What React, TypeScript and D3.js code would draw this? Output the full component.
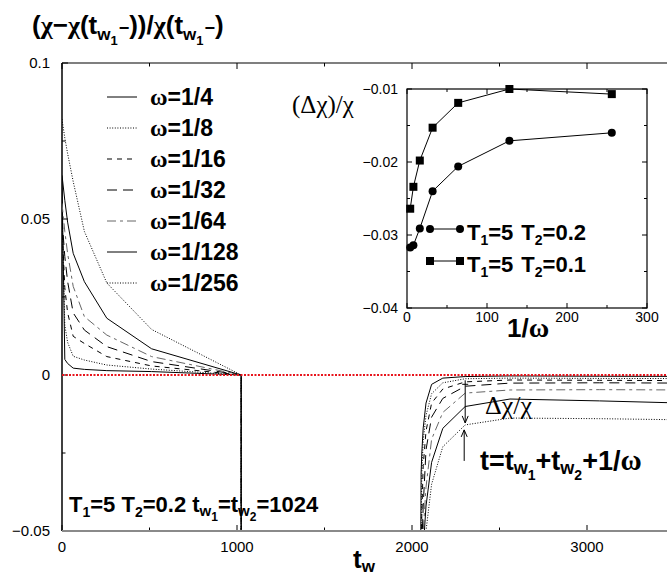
import React from 'react';
import * as d3 from 'd3';

// legend labels for the seven runs (omega values)
const omegaLabels = ['1/4', '1/8', '1/16', '1/32', '1/64', '1/128', '1/256'];

// first stage, 0 .. t_w1 = 1024 (last point is the drop below the frame)
const leftT = [0, 16, 32, 64, 128, 256, 512, 1024, 1024];
const left4 = [0.062, 0.005, 0.0037, 0.0022, 0.0018, 0.0014, 0.0011, 0, -0.075];
const left8 = [0.052, 0.016, 0.0105, 0.006, 0.0048, 0.0032, 0.0019, 0, -0.075];
const left16 = [0.048, 0.028, 0.02, 0.0124, 0.0101, 0.0059, 0.0029, 0, -0.075];
const left32 = [0.05, 0.038, 0.03, 0.0199, 0.0144, 0.0091, 0.0043, 0, -0.075];
const left64 = [0.055, 0.046, 0.039, 0.0284, 0.0187, 0.0128, 0.0059, 0, -0.075];
const left128 = [0.064, 0.056, 0.049, 0.039, 0.0299, 0.0182, 0.0084, 0, -0.075];
const left256 = [0.082, 0.076, 0.071, 0.062, 0.046, 0.0295, 0.0146, 0, -0.075];

// second stage, from t_w1 + t_w2 = 2048 on
const rightT = [2048, 2052, 2056, 2064, 2080, 2112, 2176, 2304, 2560, 3072, 4096];
const right4 = [-0.075, -0.0317, -0.025, -0.017, -0.009, -0.003, -0.001, -0.0005, -0.0003, -0.0004, -0.0005];
const right8 = [-0.075, -0.055, -0.0314, -0.021, -0.013, -0.006, -0.0025, -0.0012, -0.001, -0.0011, -0.0012];
const right16 = [-0.075, -0.06, -0.045, -0.0291, -0.018, -0.009, -0.0045, -0.0022, -0.0016, -0.0017, -0.0019];
const right32 = [-0.075, -0.065, -0.055, -0.042, -0.024, -0.0135, -0.0075, -0.0036, -0.0026, -0.0025, -0.0027];
const right64 = [-0.075, -0.07, -0.062, -0.05, -0.036, -0.0206, -0.012, -0.0058, -0.0048, -0.0047, -0.0049];
const right128 = [-0.075, -0.072, -0.066, -0.056, -0.042, -0.028, -0.0171, -0.0101, -0.0077, -0.0083, -0.0098];
const right256 = [-0.075, -0.073, -0.07, -0.062, -0.05, -0.035, -0.023, -0.016, -0.0138, -0.014, -0.0148];

// inset: delta chi / chi against 1/omega
const invOmega = [4, 8, 16, 32, 64, 128, 256];
const dchiT02 = [-0.0317, -0.0314, -0.0291, -0.024, -0.0206, -0.0171, -0.016];
const dchiT01 = [-0.0264, -0.0234, -0.0198, -0.0153, -0.0119, -0.01, -0.0107];

const xTicks = [0, 1000, 2000, 3000];
const yTicks = [-0.05, 0, 0.05, 0.1];
const yTickLabels = ['\u22120.05', '0', '0.05', '0.1'];
const insetXTicks = [0, 100, 200, 300];
const insetYTicks = [-0.04, -0.03, -0.02, -0.01];
const insetYTickLabels = ['\u22120.04', '\u22120.03', '\u22120.02', '\u22120.01'];

// the arrow marks t = t_w1 + t_w2 + 1/omega for omega = 1/256
const arrowT = 2304;

const leftSeries = [left4, left8, left16, left32, left64, left128, left256];
const rightSeries = [right4, right8, right16, right32, right64, right128, right256];

const lineStyles = [
  { stroke: '#000', dash: undefined },
  { stroke: '#000', dash: '1,1.6' },
  { stroke: '#000', dash: '5,5' },
  { stroke: '#000', dash: '10,6' },
  { stroke: '#666', dash: '9,4,3,4' },
  { stroke: '#000', dash: undefined },
  { stroke: '#000', dash: '1,1.6' },
];

const SANS = 'Liberation Sans, Arial, sans-serif';
const SERIF = 'Liberation Serif, Times New Roman, serif';

export default function App() {
  const W = 667;
  const H = 577;

  const x = d3.scaleLinear().domain([0, 3500]).range([62, 674.5]);
  const y = d3.scaleLinear().domain([-0.05, 0.1]).range([531, 63]);
  const ix = d3.scaleLinear().domain([0, 300]).range([407, 647]);
  const iy = d3.scaleLinear().domain([-0.04, -0.01]).range([308, 89]);

  const line = d3.line<[number, number]>()
    .x(d => x(d[0]))
    .y(d => y(d[1]));
  const insetLine = d3.line<[number, number]>()
    .x(d => ix(d[0]))
    .y(d => iy(d[1]));

  const plotLeft = x(0);
  const plotTop = y(0.1);
  const plotBottom = y(-0.05);

  const mainMinorX = d3.range(0, 3501, 500);
  const mainMinorY = d3.range(-0.05, 0.1001, 0.025);
  const insetMinorX = d3.range(0, 301, 50);
  const insetMinorY = d3.range(-0.04, -0.0099, 0.005);

  const legendY = (i: number) => 97 + i * 31;
  const yArrow = y(right256[7]);

  return (
    <svg width={W} height={H} style={{ position: 'fixed', left: 0, top: 0, background: '#fff' }}>
      <defs>
        <clipPath id="mainClip">
          <rect x={plotLeft} y={plotTop} width={W - plotLeft} height={plotBottom - plotTop} />
        </clipPath>
      </defs>
      <rect width={W} height={H} fill="#fff" />

      {/* title */}
      <text x={32} y={34} fontFamily={SANS} fontWeight="bold" fontSize={26}>
        (<tspan fontFamily={SERIF}>χ</tspan>−<tspan fontFamily={SERIF}>χ</tspan>(t
        <tspan fontSize={17} dy={6}>w</tspan>
        <tspan fontSize={13} dy={5}>1</tspan>
        <tspan fontSize={18} dy={-11} dx={1}>−</tspan>
        <tspan>))/</tspan>
        <tspan fontFamily={SERIF}>χ</tspan>(t
        <tspan fontSize={17} dy={6}>w</tspan>
        <tspan fontSize={13} dy={5}>1</tspan>
        <tspan fontSize={18} dy={-11} dx={1}>−</tspan>
        <tspan>)</tspan>
      </text>

      {/* frame */}
      <line x1={plotLeft} x2={W} y1={plotTop} y2={plotTop} stroke="#000" strokeWidth={1.2} />
      <line x1={plotLeft} x2={plotLeft} y1={plotTop} y2={plotBottom} stroke="#000" strokeWidth={1.5} />

      {/* ticks */}
      {mainMinorX.map(t => {
        const len = t % 1000 === 0 ? 6 : 3.5;
        return (
          <g key={'mx' + t}>
            <line x1={x(t)} x2={x(t)} y1={plotTop} y2={plotTop + len} stroke="#000" strokeWidth={1} />
            <line x1={x(t)} x2={x(t)} y1={plotBottom} y2={plotBottom - len} stroke="#000" strokeWidth={1} />
          </g>
        );
      })}
      {mainMinorY.map((v, i) => (
        <line key={'my' + i} x1={plotLeft} x2={plotLeft + (i % 2 === 0 ? 6 : 3.5)} y1={y(v)} y2={y(v)} stroke="#000" strokeWidth={1} />
      ))}

      {xTicks.map(t => (
        <text key={'xl' + t} x={x(t)} y={552} textAnchor="middle" fontFamily={SANS} fontSize={15}>{t}</text>
      ))}
      {yTicks.map((v, i) => (
        <text key={'yl' + i} x={50} y={y(v) + 5} textAnchor="end" fontFamily={SANS} fontSize={15}>{yTickLabels[i]}</text>
      ))}

      {/* x label */}
      <text x={353} y={568} fontFamily={SANS} fontWeight="bold" fontSize={26}>
        t<tspan fontSize={17} dy={4}>w</tspan>
      </text>

      {/* curves */}
      <g clipPath="url(#mainClip)">
        {leftSeries.map((vals, k) => (
          <path key={'l' + k} d={line(leftT.map((t, i) => [t, vals[i]] as [number, number])) || ''}
            fill="none" stroke={lineStyles[k].stroke} strokeWidth={1} strokeDasharray={lineStyles[k].dash} />
        ))}
        {rightSeries.map((vals, k) => (
          <path key={'r' + k} d={line(rightT.map((t, i) => [t, vals[i]] as [number, number])) || ''}
            fill="none" stroke={lineStyles[k].stroke} strokeWidth={1} strokeDasharray={lineStyles[k].dash} />
        ))}
        <line x1={plotLeft} x2={W} y1={y(0)} y2={y(0)} stroke="#e8141c" strokeWidth={2} strokeDasharray="2,1.5" />
      </g>

      {/* bottom axis drawn on top, grey */}
      <line x1={plotLeft} x2={W} y1={plotBottom} y2={plotBottom} stroke="#8a8a8a" strokeWidth={2} />

      {/* legend */}
      {omegaLabels.map((lab, i) => (
        <g key={'lg' + i}>
          <line x1={107} x2={137} y1={legendY(i)} y2={legendY(i)} stroke={lineStyles[i].stroke}
            strokeWidth={1} strokeDasharray={lineStyles[i].dash} />
          <text x={150} y={legendY(i) + 8} fontFamily={SANS} fontWeight="bold" fontSize={23}>
            <tspan fontFamily={SERIF} fontSize={24}>ω</tspan>={lab}
          </text>
        </g>
      ))}

      {/* arrow annotation */}
      <g stroke="#000" strokeWidth={1} fill="none">
        <line x1={x(arrowT)} x2={x(arrowT)} y1={y(-0.0017)} y2={yArrow - 2} />
        <path d={`M${x(arrowT) - 3},${yArrow - 9} L${x(arrowT)},${yArrow - 2} L${x(arrowT) + 3},${yArrow - 9}`} />
        <path d={`M${x(arrowT) - 3},${y(-0.0017) + 4} L${x(arrowT) + 3},${y(-0.0017) + 4}`} />
        <line x1={x(arrowT) - 1} x2={x(arrowT) - 1} y1={yArrow + 36} y2={yArrow + 5} />
        <path d={`M${x(arrowT) - 4},${yArrow + 12} L${x(arrowT) - 1},${yArrow + 5} L${x(arrowT) + 2},${yArrow + 12}`} />
      </g>
      <text x={485} y={414} fontFamily={SERIF} fontSize={26}>Δχ/χ</text>
      <text x={480} y={470} fontFamily={SANS} fontWeight="bold" fontSize={27}>
        t=t<tspan fontSize={18} dy={4}>w</tspan><tspan fontSize={14} dy={6}>1</tspan>
        <tspan dy={-10}>+t</tspan><tspan fontSize={18} dy={4}>w</tspan><tspan fontSize={14} dy={6}>2</tspan>
        <tspan dy={-10}>+1/</tspan><tspan fontFamily={SERIF} fontSize={29}>ω</tspan>
      </text>

      <text x={69} y={512} fontFamily={SANS} fontWeight="bold" fontSize={22}>
        T<tspan fontSize={14} dy={5}>1</tspan><tspan dy={-5}>=5 T</tspan><tspan fontSize={14} dy={5}>2</tspan>
        <tspan dy={-5}>=0.2 t</tspan><tspan fontSize={15} dy={4}>w</tspan><tspan fontSize={12} dy={5}>1</tspan>
        <tspan dy={-9}>=t</tspan><tspan fontSize={15} dy={4}>w</tspan><tspan fontSize={12} dy={5}>2</tspan>
        <tspan dy={-9}>=1024</tspan>
      </text>

      {/* inset */}
      <rect x={ix(0)} y={iy(-0.01)} width={ix(300) - ix(0)} height={iy(-0.04) - iy(-0.01)} fill="#fff" stroke="#000" strokeWidth={1.2} />
      {insetMinorX.map(v => {
        const len = v % 100 === 0 ? 5 : 3;
        return (
          <g key={'ix' + v}>
            <line x1={ix(v)} x2={ix(v)} y1={iy(-0.04)} y2={iy(-0.04) - len} stroke="#000" />
            <line x1={ix(v)} x2={ix(v)} y1={iy(-0.01)} y2={iy(-0.01) + len} stroke="#000" />
          </g>
        );
      })}
      {insetMinorY.map((v, i) => {
        const len = i % 2 === 0 ? 5 : 3;
        return (
          <g key={'iy' + i}>
            <line x1={ix(0)} x2={ix(0) + len} y1={iy(v)} y2={iy(v)} stroke="#000" />
            <line x1={ix(300)} x2={ix(300) - len} y1={iy(v)} y2={iy(v)} stroke="#000" />
          </g>
        );
      })}
      {insetXTicks.map(v => (
        <text key={'ixl' + v} x={ix(v)} y={322} textAnchor="middle" fontFamily={SANS} fontSize={14}>{v}</text>
      ))}
      {insetYTicks.map((v, i) => (
        <text key={'iyl' + i} x={398} y={iy(v) + 5} textAnchor="end" fontFamily={SANS} fontSize={14}>{insetYTickLabels[i]}</text>
      ))}
      <text x={292} y={113} fontFamily={SERIF} fontSize={25}>(Δχ)/χ</text>
      <text x={507} y={337} fontFamily={SANS} fontWeight="bold" fontSize={26}>
        1/<tspan fontFamily={SERIF} fontSize={28}>ω</tspan>
      </text>

      <path d={insetLine(invOmega.map((v, i) => [v, dchiT02[i]] as [number, number])) || ''} fill="none" stroke="#000" strokeWidth={1} />
      <path d={insetLine(invOmega.map((v, i) => [v, dchiT01[i]] as [number, number])) || ''} fill="none" stroke="#000" strokeWidth={1} />
      {invOmega.map((v, i) => (
        <circle key={'c' + i} cx={ix(v)} cy={iy(dchiT02[i])} r={4} fill="#000" />
      ))}
      {invOmega.map((v, i) => (
        <rect key={'s' + i} x={ix(v) - 4} y={iy(dchiT01[i]) - 4} width={8} height={8} fill="#000" />
      ))}

      {/* inset legend */}
      <line x1={430} x2={460} y1={229} y2={229} stroke="#000" />
      <circle cx={430} cy={229} r={4} fill="#000" />
      <circle cx={460} cy={229} r={4} fill="#000" />
      <text x={467} y={240} fontFamily={SANS} fontWeight="bold" fontSize={22}>
        T<tspan fontSize={14} dy={5}>1</tspan><tspan dy={-5}>=5</tspan><tspan dx={8}>T</tspan><tspan fontSize={14} dy={5}>2</tspan><tspan dy={-5}>=0.2</tspan>
      </text>
      <line x1={430} x2={460} y1={261} y2={261} stroke="#000" />
      <rect x={426} y={257} width={8} height={8} fill="#000" />
      <rect x={456} y={257} width={8} height={8} fill="#000" />
      <text x={467} y={272} fontFamily={SANS} fontWeight="bold" fontSize={22}>
        T<tspan fontSize={14} dy={5}>1</tspan><tspan dy={-5}>=5</tspan><tspan dx={8}>T</tspan><tspan fontSize={14} dy={5}>2</tspan><tspan dy={-5}>=0.1</tspan>
      </text>
    </svg>
  );
}
